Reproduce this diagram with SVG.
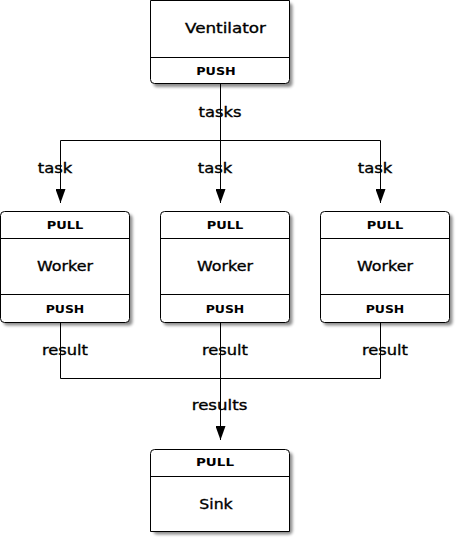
<svg xmlns="http://www.w3.org/2000/svg" width="456" height="539" viewBox="0 0 456 539">
<style>
.box{fill:#fff;stroke:#000;stroke-width:1}
.div{stroke:#000;stroke-width:1;fill:none}
.sh{fill:#000;opacity:0.45;filter:url(#blur)}
.big{font-family:"DejaVu Sans",sans-serif;font-size:14.5px;fill:#000;stroke:#000;stroke-width:0.35;text-anchor:middle}
.port{font-family:"DejaVu Sans",sans-serif;font-size:10.8px;font-weight:bold;fill:#000;text-anchor:middle}
.edge{stroke:#000;stroke-width:1;fill:none}
.lbl{font-family:"DejaVu Sans",sans-serif;font-size:14.5px;fill:#000;stroke:#000;stroke-width:0.35;text-anchor:middle}
</style>
<defs>
<filter id="blur" x="-10%" y="-10%" width="120%" height="120%"><feGaussianBlur stdDeviation="1.5"/></filter>
<marker id="arr" markerUnits="userSpaceOnUse" viewBox="0 0 14 10" markerWidth="14" markerHeight="10" refX="14" refY="5" orient="auto"><path d="M0,0 L14,5 L0,10 z" fill="#000"/></marker>
</defs>
<rect width="456" height="539" fill="#fff"/>

<g id="connectors">
<path class="edge" d="M220.5,84 V203" marker-end="url(#arr)"/>
<path class="edge" d="M60.5,140.5 H380.5"/>
<path class="edge" d="M60.5,140.5 V203" marker-end="url(#arr)"/>
<path class="edge" d="M380.5,140.5 V203" marker-end="url(#arr)"/>
<path class="edge" d="M60.5,322 V378.5 H380.5 V322"/>
<path class="edge" d="M220.5,322 V440" marker-end="url(#arr)"/>
<text class="lbl" x="220" y="117" textLength="43" lengthAdjust="spacingAndGlyphs">tasks</text>
<text class="lbl" x="55" y="173" textLength="34.6" lengthAdjust="spacingAndGlyphs">task</text>
<text class="lbl" x="215" y="173" textLength="34.6" lengthAdjust="spacingAndGlyphs">task</text>
<text class="lbl" x="375" y="173" textLength="34.6" lengthAdjust="spacingAndGlyphs">task</text>
<text class="lbl" x="65" y="355" textLength="46" lengthAdjust="spacingAndGlyphs">result</text>
<text class="lbl" x="225" y="355" textLength="46" lengthAdjust="spacingAndGlyphs">result</text>
<text class="lbl" x="385" y="355" textLength="46" lengthAdjust="spacingAndGlyphs">result</text>
<text class="lbl" x="219.5" y="410" textLength="55.6" lengthAdjust="spacingAndGlyphs">results</text>
</g>

<g id="ventilator">
<rect class="sh" x="153.5" y="3" width="139" height="84" rx="4"/>
<path class="box" d="M150.5,0.5 H289.5 V79.5 Q289.5,83.5 285.5,83.5 H154.5 Q150.5,83.5 150.5,79.5 Z"/>
<path class="div" d="M150.5,57.5 H289.5"/>
<text class="big" x="225.5" y="33" textLength="81" lengthAdjust="spacingAndGlyphs">Ventilator</text>
<text class="port" x="216" y="75" textLength="39.5" lengthAdjust="spacingAndGlyphs">PUSH</text>
</g>

<g id="worker1">
<rect class="sh" x="3.5" y="214.5" width="129" height="111" rx="4"/>
<rect class="box" x="0.5" y="211.5" width="129" height="111" rx="4"/>
<path class="div" d="M0.5,238.5 H129.5 M0.5,294.5 H129.5"/>
<text class="port" x="65" y="229.3" textLength="36.6" lengthAdjust="spacingAndGlyphs">PULL</text>
<text class="big" x="65" y="270.7" textLength="56" lengthAdjust="spacingAndGlyphs">Worker</text>
<text class="port" x="65" y="312.7" textLength="38.6" lengthAdjust="spacingAndGlyphs">PUSH</text>
</g>

<g id="worker2">
<rect class="sh" x="163.5" y="214.5" width="129" height="111" rx="4"/>
<rect class="box" x="160.5" y="211.5" width="129" height="111" rx="4"/>
<path class="div" d="M160.5,238.5 H289.5 M160.5,294.5 H289.5"/>
<text class="port" x="225" y="229.3" textLength="36.6" lengthAdjust="spacingAndGlyphs">PULL</text>
<text class="big" x="225" y="270.7" textLength="56" lengthAdjust="spacingAndGlyphs">Worker</text>
<text class="port" x="225" y="312.7" textLength="38.6" lengthAdjust="spacingAndGlyphs">PUSH</text>
</g>

<g id="worker3">
<rect class="sh" x="323.5" y="214.5" width="129" height="111" rx="4"/>
<rect class="box" x="320.5" y="211.5" width="129" height="111" rx="4"/>
<path class="div" d="M320.5,238.5 H449.5 M320.5,294.5 H449.5"/>
<text class="port" x="385" y="229.3" textLength="36.6" lengthAdjust="spacingAndGlyphs">PULL</text>
<text class="big" x="385" y="270.7" textLength="56" lengthAdjust="spacingAndGlyphs">Worker</text>
<text class="port" x="385" y="312.7" textLength="38.6" lengthAdjust="spacingAndGlyphs">PUSH</text>
</g>

<g id="sink">
<rect class="sh" x="153.5" y="452.5" width="139" height="82" rx="4"/>
<path class="box" d="M150.5,453.5 Q150.5,449.5 154.5,449.5 H285.5 Q289.5,449.5 289.5,453.5 V531.5 H150.5 Z"/>
<path class="div" d="M150.5,476.5 H289.5"/>
<text class="port" x="215" y="466" textLength="38" lengthAdjust="spacingAndGlyphs">PULL</text>
<text class="big" x="216" y="509" textLength="33.4" lengthAdjust="spacingAndGlyphs">Sink</text>
</g>
</svg>
